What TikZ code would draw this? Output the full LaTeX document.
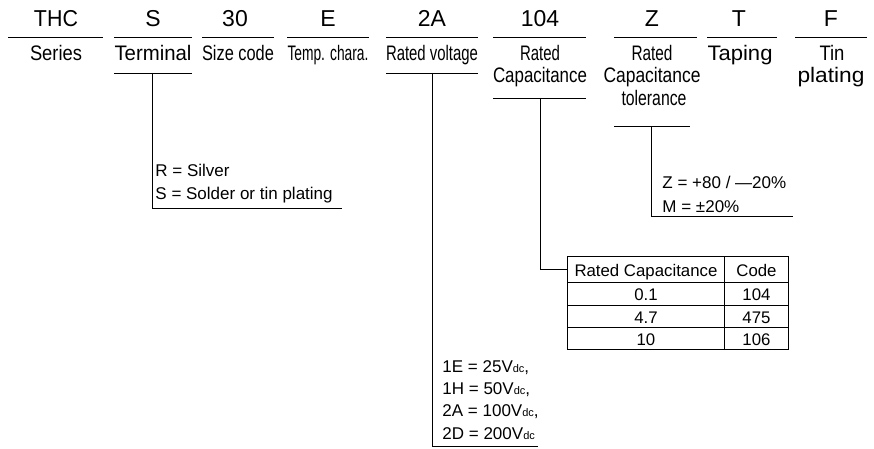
\documentclass[tikz,border=0pt]{standalone}
\usepackage{fontspec}
\setmainfont{Liberation Sans}
\newcommand{\fw}[2]{\resizebox{#1pt}{\height}{#2}}
\newcommand{\dcs}{{\fontsize{11}{11}\selectfont dc}}
\begin{document}
\begin{tikzpicture}[x=1pt,y=-1pt,line width=0.9pt,
  code/.style={anchor=base,inner sep=0pt,font=\fontsize{23}{26}\selectfont},
  lab/.style={anchor=base,inner sep=0pt,font=\fontsize{21}{23}\selectfont},
  note/.style={anchor=base west,inner sep=0pt,font=\fontsize{17}{20}\selectfont},
  cell/.style={draw,anchor=north west,inner sep=0pt,text height=13.5pt,text depth=0pt,font=\fontsize{16.8}{20}\selectfont},
  rule/.style={line width=0.9pt}]
\useasboundingbox (0,0) rectangle (874,449);
% codes
\node[code] (cTHC) at (56,26.5) {\fw{44}{THC}};
\node[code] (cS) at (153,26.5) {S};
\node[code] (c30) at (235,26.5) {30};
\node[code] (cE) at (328,26.5) {E};
\node[code] (c2A) at (432,26.5) {2A};
\node[code] (c104) at (540,26.5) {104};
\node[code] (cZ) at (652,26.5) {Z};
\node[code] (cT) at (739,26.5) {T};
\node[code] (cF) at (831,26.5) {F};
% top rules
\draw[rule] (8,37) -- (103,37);
\draw[rule] (114,37) -- (192,37);
\draw[rule] (202,37) -- (274,37);
\draw[rule] (287,37) -- (369,37);
\draw[rule] (386,37) -- (478,37);
\draw[rule] (493,37) -- (586,37);
\draw[rule] (614,37) -- (697,37);
\draw[rule] (707,37) -- (777,37);
\draw[rule] (795,37) -- (867,37);
% labels
\node[lab] (lSeries) at (56,60.5) {\fw{52}{Series}};
\node[lab] (lTerm) at (153,60.5) {\fw{77}{Terminal}};
\node[lab] (lSize) at (238,60.5) {\fw{72}{Size code}};
\node[lab] (lTemp) at (328,60.5) {\fw{81}{Temp. chara.}};
\node[lab] (lVolt) at (432,60.5) {\fw{92}{Rated voltage}};
\node[lab] (lRC1) at (540,60.5) {\fw{40}{Rated}};
\node[lab] (lRC2) at (540,83) {\fw{94}{Capacitance}};
\node[lab] (lTol1) at (652,60.5) {\fw{41}{Rated}};
\node[lab] (lTol2) at (652,83) {\fw{97}{Capacitance}};
\node[lab] (lTol3) at (654,105.5) {\fw{65}{tolerance}};
\node[lab] (lTap) at (740,60.5) {\fw{65}{Taping}};
\node[lab] (lTin1) at (832,60.5) {\fw{25}{Tin}};
\node[lab] (lTin2) at (831,83) {\fw{67}{plating}};
% second rules
\draw[rule] (114,73) -- (192,73);
\draw[rule] (386,73) -- (478,73);
\draw[rule] (493,98) -- (586,98);
\draw[rule] (614,126.5) -- (690,126.5);
% connector anchors
\coordinate (kTerm) at (152.5,73);
\coordinate (eTerm) at (342,208.3);
\coordinate (kVolt) at (432,73);
\coordinate (eVolt) at (538,446.5);
\coordinate (kCap) at (540,98);
\coordinate (kTol) at (651.5,126.5);
\coordinate (eTol) at (793,216.8);
% terminal
\draw (kTerm) |- (eTerm);
\node[note] (nR) at (155,176) {R = Silver};
\node[note] (nS) at (155,199.5) {S = Solder or tin plating};
% tolerance
\draw (kTol) |- (eTol);
\node[note] (nZ) at (662,188.5) {Z = +80 / —20\%};
\node[note] (nM) at (662,212.5) {M = ±20\%};
% voltage
\draw (kVolt) |- (eVolt);
\node[note] (v1) at (442,372) {1E = 25V\dcs,};
\node[note] (v2) at (442,394.3) {1H = 50V\dcs,};
\node[note] (v3) at (442,416.6) {2A = 100V\dcs,};
\node[note] (v4) at (442,439) {2D = 200V\dcs};
% table
\node[cell,minimum width=157pt,minimum height=26pt] (hdr) at (567,256) {Rated Capacitance};
\node[cell,minimum width=64pt,minimum height=26pt] (hcode) at (724,256) {Code};
\node[cell,minimum width=157pt,minimum height=23pt] (r1a) at (567,282) {0.1};
\node[cell,minimum width=64pt,minimum height=23pt] (r1b) at (724,282) {104};
\node[cell,minimum width=157pt,minimum height=22pt] (r2a) at (567,305) {4.7};
\node[cell,minimum width=64pt,minimum height=22pt] (r2b) at (724,305) {475};
\node[cell,minimum width=157pt,minimum height=22pt] (r3a) at (567,327) {10};
\node[cell,minimum width=64pt,minimum height=22pt] (r3b) at (724,327) {106};
\draw (kCap) |- (hdr.west);
\end{tikzpicture}
\end{document}
